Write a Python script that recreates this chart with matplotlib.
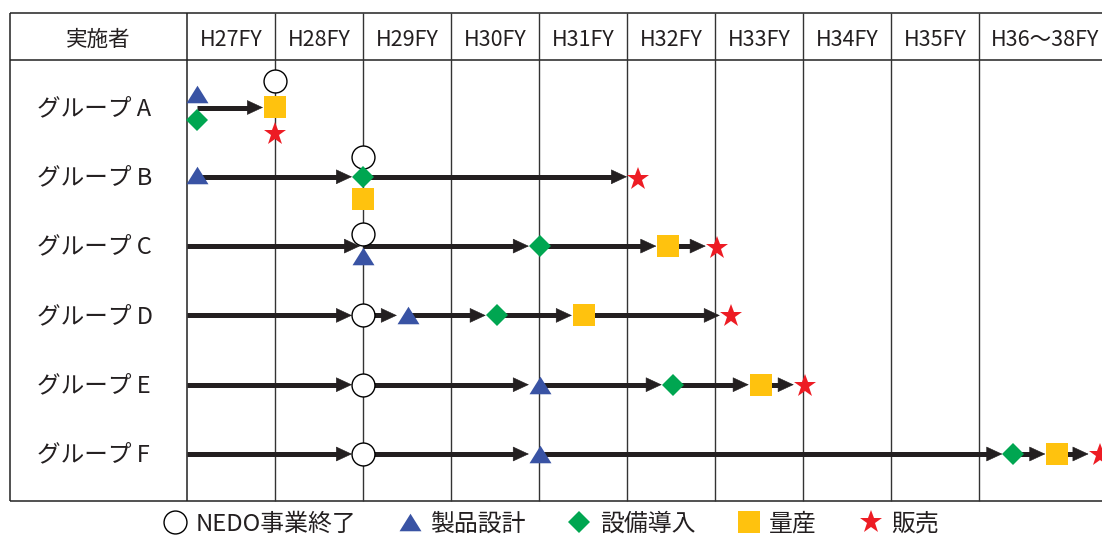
import matplotlib
matplotlib.use("Agg")
import matplotlib.pyplot as plt
from matplotlib.lines import Line2D

# data
years = ["H27FY", "H28FY", "H29FY", "H30FY", "H31FY", "H32FY",
         "H33FY", "H34FY", "H35FY", "H36～38FY"]
groups = ["グループ A", "グループ B", "グループ C", "グループ D", "グループ E", "グループ F"]
# milestone timing, in fiscal-year columns from the start of H27FY
line_start = [0.11, 0.11, 0.0, 0.0, 0.0, 0.0]
nedo_end = [1.0, 2.0, 2.0, 2.0, 2.0, 2.0]
design = [0.11, 0.11, 2.0, 2.51, 4.01, 4.01]
equip = [0.11, 2.0, 4.01, 3.52, 5.52, 9.39]
mass = [1.0, 2.0, 5.47, 4.51, 6.52, 9.89]
sales = [1.0, 5.125, 6.02, 6.18, 7.02, 10.37]
legend_labels = ["NEDO事業終了", "製品設計", "設備導入", "量産", "販売"]

# vertical nudges (pixels) where markers share a slot
nedo_dy = [-27, -20, -12, 0, 0, 0]
design_dy = [-14, -2, 10, 0, 0, 0]
equip_dy = [12, 0, 0, 0, 0, 0]
mass_dy = [-1, 22, 0, 0, 0, 0]
sales_dy = [26, 2, 2, 1, 1, 1]

PX_X = 88.0   # pixels per column
PX_Y = 69.3   # pixels per row
X0, Y0 = 187, 107.5

def xu(px):
    return (px - X0) / PX_X

def yr(py):
    return (py - Y0) / PX_Y

BLUE = "#3953A4"
GREEN = "#00A651"
YELLOW = "#FFC20E"
RED = "#ED1C24"
INK = "#231F20"
TXT = "#231F20"
tri = [(0, 0.8), (-1, -0.8), (1, -0.8)]

styles = {
    "nedo": dict(marker="o", ms=16.5, mfc="white", mec="black", mew=1.0),
    "design": dict(marker=tri, ms=15.8, mfc=BLUE, mec=BLUE, mew=0),
    "equip": dict(marker="D", ms=11.2, mfc=GREEN, mec=GREEN, mew=0),
    "mass": dict(marker="s", ms=16.5, mfc=YELLOW, mec=YELLOW, mew=0),
    "sales": dict(marker="*", ms=17, mfc=RED, mec=RED, mew=0),
}
half_w = {"nedo": 11, "design": 11, "equip": 11, "mass": 12, "sales": 11}

CJK = ["Noto Sans CJK JP", "DejaVu Sans"]

fig = plt.figure(figsize=(11.02, 5.35), dpi=100)
ax = fig.add_axes([0, 0, 1, 1])
ax.set_xlim(xu(0), xu(1102))
ax.set_ylim(yr(535), yr(0))
ax.axis("off")

# table grid
top, head, bot = yr(13), yr(60), yr(501)
left = xu(10)
right = xu(1102)
ax.hlines([top, head, bot], left, right, color="#222222", lw=1.1, zorder=1)
ax.vlines([left, 0], top, bot, color="#222222", lw=1.1, zorder=1)
ax.vlines(range(1, len(years)), top, bot, color="#333333", lw=1.0, zorder=1)

# header
ax.text(xu(98), yr(39.5), "実施者", ha="center", va="center",
        fontsize=15.5, family=CJK, color=TXT)
for i, y in enumerate(years):
    cx = i + 0.5 if i < len(years) - 1 else 9.75
    ax.text(cx, yr(39.5), y, ha="center", va="center",
            fontsize=15.5, family=CJK, color=TXT)

# rows
events = {"nedo": (nedo_end, nedo_dy), "design": (design, design_dy),
          "equip": (equip, equip_dy), "mass": (mass, mass_dy),
          "sales": (sales, sales_dy)}
head_len = 15
for r, g in enumerate(groups):
    ax.text(xu(37), r + 1 / PX_Y, g, ha="left", va="center", fontsize=17,
            family=CJK, color=TXT)
    xs = sorted(set(v[0][r] for v in events.values()) - {line_start[r]})
    prev = line_start[r]
    for nx in xs:
        on_line = [k for k, v in events.items()
                   if v[0][r] == nx and abs(v[1][r]) < 6]
        gap = max([half_w[k] for k in on_line], default=3)
        tip = nx - gap / PX_X
        base = tip - head_len / PX_X
        ax.plot([prev, base + 1 / PX_X], [r, r], color=INK, lw=3.6,
                solid_capstyle="butt", zorder=2)
        ax.annotate("", xy=(tip, r), xytext=(base, r),
                    arrowprops=dict(arrowstyle="-|>,head_length=10.8,head_width=5",
                                    mutation_scale=1, color=INK, lw=0.4,
                                    shrinkA=0, shrinkB=0), zorder=3)
        prev = nx
    for k, (vals, dys) in events.items():
        ax.plot(vals[r], r + dys[r] / PX_Y, linestyle="none",
                zorder=4, clip_on=False, **styles[k])

# legend
handles = [Line2D([], [], linestyle="none", **styles[k])
           for k in ["nedo", "design", "equip", "mass", "sales"]]
fig.legend(handles, legend_labels, loc="center", ncol=5,
           bbox_to_anchor=(551 / 1102, 1 - 524 / 535), frameon=False,
           handlelength=1.0, handletextpad=0.35, columnspacing=1.75,
           borderpad=0, prop=dict(family=CJK, size=17.2),
           labelcolor=TXT)

fig.savefig("out.png", dpi=100)
